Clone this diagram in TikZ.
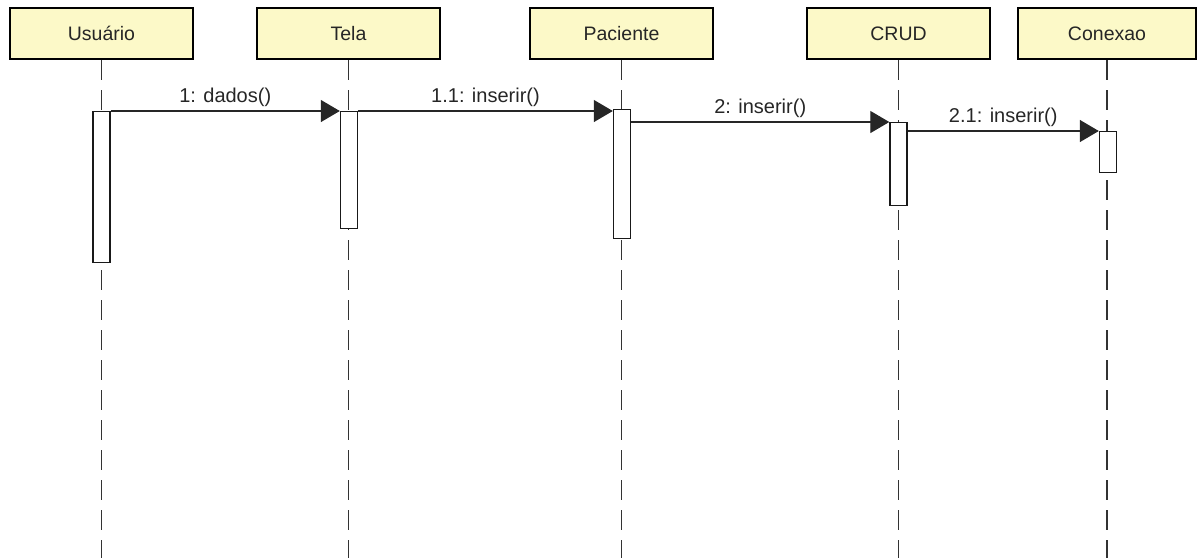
\documentclass[tikz,border=0pt]{standalone}
\usepackage{fontspec}
\setmainfont{Liberation Sans}
\usetikzlibrary{arrows.meta}
\definecolor{hdrfill}{RGB}{252,249,200}
\tikzset{
  header/.style={draw=black, line width=2.6pt, fill=hdrfill, minimum width=183pt, minimum height=51pt, inner sep=0pt, font=\fontsize{19.5}{22}\selectfont, text=black!85},
  actbar/.style={draw=black!90, line width=1.4pt, fill=white, minimum width=17pt, inner sep=0pt, anchor=north},
  lifeline/.style={draw=black!80, line width=1.4pt, dash pattern=on 20pt off 10pt},
  msg/.style={draw=black!85, line width=1.3pt, -{Triangle[length=19pt,width=22pt]}},
  msglabel/.style={font=\fontsize{20}{22}\selectfont, text=black!85, anchor=base}
}
\begin{document}
\begin{tikzpicture}[x=1pt,y=-1pt]
\useasboundingbox (0,0) rectangle (1201,558);
% headers
\node[header] (u) at (101.5,33.5) {Usuário};
\node[header] (t) at (348.5,33.5) {Tela};
\node[header] (p) at (621.5,33.5) {Paciente};
\node[header] (c) at (898.5,33.5) {CRUD};
\node[header, minimum width=178pt] (x) at (1107,33.5) {Conexao};
% lifeline ends
\coordinate (ue) at (101.5,558);
\coordinate (te) at (348.5,558);
\coordinate (pe) at (621.5,558);
\coordinate (ce) at (898.5,558);
\coordinate (xe) at (1107,558);
\draw[lifeline] (u.south) -- (ue);
\draw[lifeline] (t.south) -- (te);
\draw[lifeline] (p.south) -- (pe);
\draw[lifeline] (c.south) -- (ce);
\draw[lifeline] (x.south) -- (xe);
% activation bars
\node[actbar, minimum height=151pt] (au) at (101.5,111) {};
\node[actbar, minimum height=117pt] (at) at (349,111) {};
\node[actbar, minimum height=129pt] (ap) at (622,109) {};
\node[actbar, minimum height=83pt] (ac) at (898.5,122) {};
\node[actbar, minimum height=41pt] (ax) at (1108,131) {};
% messages
\draw[msg] (au.north east) -- (at.north west)
  node[msglabel, pos=0.5, yshift=9pt] {1: dados()};
\draw[msg] (at.north east) -- (at.north east -| ap.west)
  node[msglabel, pos=0.5, yshift=9pt] {1.1: inserir()};
\draw[msg] (ac.north west -| ap.east) -- (ac.north west)
  node[msglabel, pos=0.5, yshift=9pt] {2: inserir()};
\draw[msg] (ax.north west -| ac.east) -- (ax.north west)
  node[msglabel, pos=0.5, yshift=9pt] {2.1: inserir()};
\end{tikzpicture}
\end{document}
